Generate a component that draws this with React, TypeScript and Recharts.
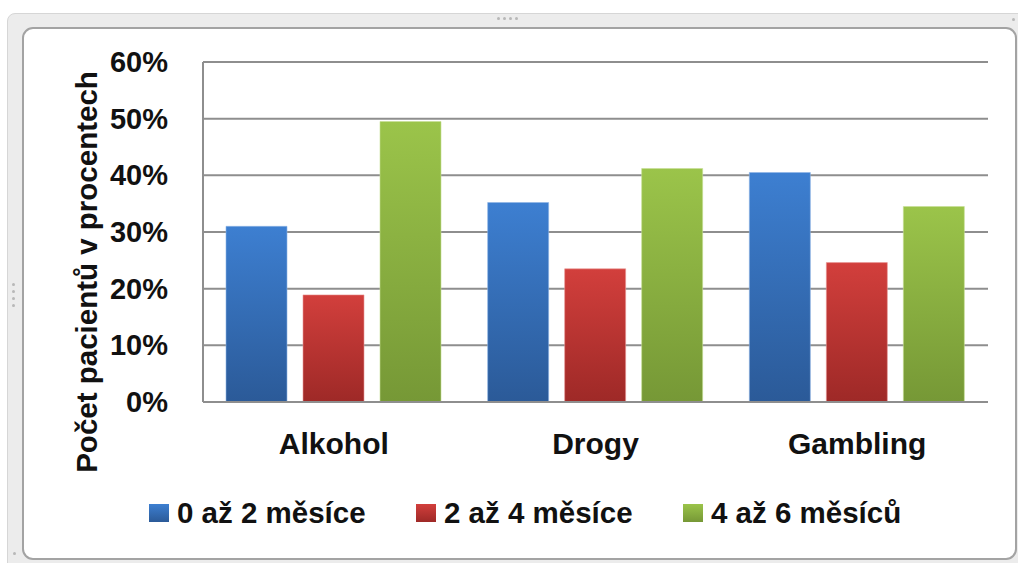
import React from 'react';
import { BarChart, Bar, XAxis, YAxis, CartesianGrid } from 'recharts';

const categories = ['Alkohol', 'Drogy', 'Gambling'];
const series0to2 = [31, 35.2, 40.5];
const series2to4 = [18.9, 23.5, 24.6];
const series4to6 = [49.5, 41.2, 34.5];
const yTicks = [0, 10, 20, 30, 40, 50, 60];

const SERIES = [
  { key: 's1', name: '0 až 2 měsíce', values: series0to2, top: '#3d7fd1', bottom: '#2b5a98', edge: '#8db4e6' },
  { key: 's2', name: '2 až 4 měsíce', values: series2to4, top: '#d23f3c', bottom: '#9e2927', edge: '#e99896' },
  { key: 's3', name: '4 až 6 měsíců', values: series4to6, top: '#9bc44a', bottom: '#769836', edge: '#c6e095' },
];

const data = categories.map((name, i) => {
  const row: Record<string, string | number> = { name };
  SERIES.forEach((s) => {
    row[s.key] = s.values[i];
  });
  return row;
});

const FONT = '"Liberation Sans", Arial, sans-serif';

function CategoryTick({ x, y, payload }: any) {
  return (
    <text x={x} y={y + 52} textAnchor="middle" fontFamily={FONT} fontWeight="bold" fontSize={30} fill="#111">
      {payload.value}
    </text>
  );
}

function PercentTick({ x, y, payload }: any) {
  return (
    <text x={x - 35} y={y + 10} textAnchor="end" fontFamily={FONT} fontWeight="bold" fontSize={29} fill="#111">
      {`${payload.value}%`}
    </text>
  );
}

function AxisTitle() {
  return (
    <text
      x={97}
      y={272}
      transform="rotate(-90, 97, 272)"
      textAnchor="middle"
      fontFamily={FONT}
      fontWeight="bold"
      fontSize={29.5}
      fill="#111"
    >
      Počet pacientů v procentech
    </text>
  );
}

function Frame() {
  const dot = (left: number, top: number) => (
    <div
      key={`${left}-${top}`}
      style={{ position: 'absolute', left, top, width: 3, height: 3, borderRadius: 2, background: '#b8b8b8' }}
    />
  );
  return (
    <>
      {/* outer grey handle band */}
      <div
        style={{
          position: 'absolute',
          left: 7,
          top: 13,
          width: 1030,
          height: 580,
          background: '#ececec',
          border: '1px solid #d6d6d6',
          borderRadius: 8,
          boxSizing: 'border-box',
        }}
      />
      {[497, 503, 509, 515].map((x) => dot(x, 17))}
      {[283, 290, 297, 304].map((y) => dot(12, y))}
      {dot(13, 552)}
      {dot(1012, 18)}
      {/* white chart panel */}
      <div
        style={{
          position: 'absolute',
          left: 22,
          top: 27,
          width: 995,
          height: 533,
          background: '#ffffff',
          border: '2px solid #a3a3a3',
          borderRadius: 11,
          boxSizing: 'border-box',
        }}
      />
    </>
  );
}

function LegendRow() {
  return (
    <div style={{ position: 'absolute', left: 0, top: 495, width: 1018, height: 40 }}>
      {SERIES.map((s, i) => (
        <div key={s.key} style={{ position: 'absolute', left: 149 + i * 267, top: 0, height: 40, width: 260 }}>
          <span
            style={{
              position: 'absolute',
              left: 0,
              top: 9,
              width: 20,
              height: 18,
              background: `linear-gradient(${s.top}, ${s.bottom})`,
            }}
          />
          <span
            style={{
              position: 'absolute',
              left: 28,
              top: 3,
              fontFamily: FONT,
              fontWeight: 'bold',
              fontSize: 29.5,
              lineHeight: '29px',
              color: '#111',
              whiteSpace: 'nowrap',
            }}
          >
            {s.name}
          </span>
        </div>
      ))}
    </div>
  );
}

export default function App() {
  return (
    <div style={{ position: 'absolute', left: 0, top: 0, width: 1018, height: 563, overflow: 'hidden', background: '#fff' }}>
      <Frame />
      <div style={{ position: 'absolute', left: 0, top: 0 }}>
        <BarChart
          width={1018}
          height={563}
          data={data}
          margin={{ top: 62, right: 30, bottom: 101, left: 0 }}
          barCategoryGap={23}
          barGap={16}
        >
          <defs>
            {SERIES.map((s) => (
              <linearGradient key={s.key} id={`grad-${s.key}`} x1="0" y1="0" x2="0" y2="1">
                <stop offset="0%" stopColor={s.top} />
                <stop offset="100%" stopColor={s.bottom} />
              </linearGradient>
            ))}
          </defs>
          <CartesianGrid vertical={false} stroke="#8e8e8e" strokeWidth={2} />
          <XAxis
            dataKey="name"
            height={60}
            tickLine={false}
            tickSize={0}
            tickMargin={0}
            axisLine={{ stroke: '#8e8e8e', strokeWidth: 2 }}
            tick={<CategoryTick />}
          />
          <YAxis
            width={203}
            domain={[0, 60]}
            ticks={yTicks}
            interval={0}
            tickLine={false}
            tickSize={0}
            tickMargin={0}
            axisLine={{ stroke: '#8e8e8e', strokeWidth: 2 }}
            tick={<PercentTick />}
            label={{ content: () => <AxisTitle /> }}
          />
          {SERIES.map((s) => (
            <Bar
              key={s.key}
              dataKey={s.key}
              name={s.name}
              fill={`url(#grad-${s.key})`}
              stroke={s.edge}
              strokeOpacity={0.6}
              strokeWidth={1}
              isAnimationActive={false}
            />
          ))}
        </BarChart>
      </div>
      <LegendRow />
    </div>
  );
}
